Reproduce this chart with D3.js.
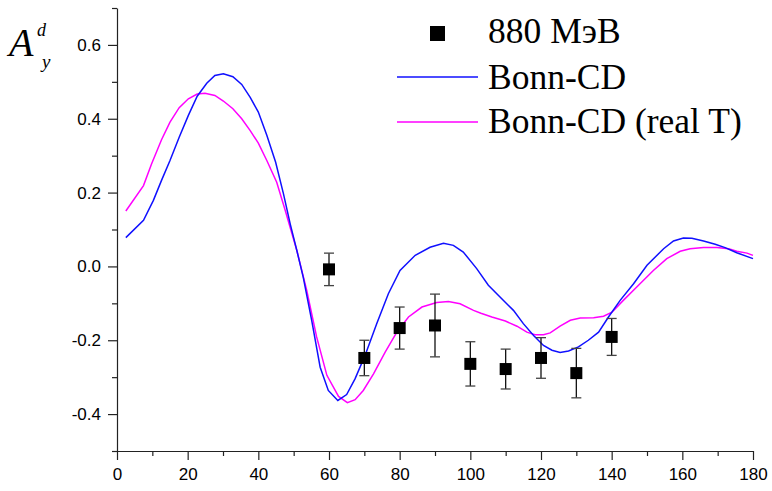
<!DOCTYPE html>
<html>
<head>
<meta charset="utf-8">
<script src="https://cdnjs.cloudflare.com/ajax/libs/d3/7.8.5/d3.min.js"></script>
<style>
  body { margin: 0; background: #fff; }
  .axis text { font-family: "Liberation Sans", Arial, sans-serif; font-size: 17px; fill: #000; }
  .axis path, .axis line { stroke: #222; stroke-width: 1.2; }
</style>
</head>
<body>
<div id="chart"></div>
<script>

  // measured points 880 MeV
  var exp_angle = [60, 70, 80, 90, 100, 110, 120, 130, 140];
  var exp_ay    = [-0.008, -0.248, -0.167, -0.160, -0.264, -0.278, -0.248, -0.289, -0.191];
  var exp_err   = [0.044, 0.048, 0.057, 0.085, 0.060, 0.054, 0.055, 0.067, 0.050];

  // Bonn-CD
  var cd_angle = [2.5, 7.5, 10.3, 12.6, 15, 17.6, 20.2, 22.7, 25.4, 27.7, 30.1, 32.8, 35.3, 37.7, 40, 42.4, 44.9, 47.1, 49, 50.9,
                  52.7, 55.1, 57.5, 59.8, 62.5, 65, 67.4, 70.2, 73.5, 76.8, 80.1, 84.4, 88.6, 92.4, 95.2, 98, 101.8, 105.1, 108.4, 112.2,
                  115, 117.9, 120.7, 123.1, 125.4, 127.8, 130.6, 133.4, 136.3, 139.1, 142.4, 146.2, 150, 154.7, 157.5, 160.3, 162.7, 166, 169.3, 172.1,
                  175.4, 180];
  var cd_ay = [0.078, 0.125, 0.179, 0.233, 0.287, 0.350, 0.409, 0.461, 0.496, 0.517, 0.522, 0.514, 0.493, 0.458, 0.418, 0.355, 0.282, 0.197, 0.116, 0.043,
               -0.029, -0.146, -0.273, -0.336, -0.363, -0.347, -0.304, -0.241, -0.155, -0.074, -0.011, 0.030, 0.052, 0.063, 0.057, 0.039, -0.006, -0.051, -0.083, -0.119,
               -0.155, -0.187, -0.214, -0.227, -0.233, -0.229, -0.218, -0.200, -0.178, -0.137, -0.092, -0.047, 0.003, 0.048, 0.069, 0.077, 0.076, 0.069, 0.060, 0.051,
               0.037, 0.021];

  // Bonn-CD (real T)
  var rt_angle = [2.5, 7.5, 9.8, 12.6, 15, 17.6, 20.2, 22.7, 24.9, 27.7, 30.1, 32.8, 35.3, 37.7, 40, 42.4, 45.2, 47.6, 49.5, 50.9,
                  53.7, 56.5, 59.4, 62.7, 65.2, 67.4, 69.7, 72.6, 75.9, 79.2, 82.5, 86.3, 90.5, 93.8, 97.1, 100.9, 103, 106.1, 109.9, 113.2,
                  116, 118.3, 120.7, 122.6, 125.4, 128.3, 131.1, 134.9, 137.7, 140.1, 143.3, 147.1, 151.8, 155.6, 159.4, 162.2, 166, 169.8, 173.1, 175.4,
                  178.3, 180];
  var rt_ay = [0.150, 0.219, 0.278, 0.343, 0.391, 0.430, 0.454, 0.467, 0.469, 0.463, 0.448, 0.427, 0.400, 0.368, 0.334, 0.287, 0.228, 0.152, 0.089, 0.043,
               -0.065, -0.191, -0.295, -0.352, -0.369, -0.361, -0.336, -0.291, -0.232, -0.178, -0.137, -0.110, -0.098, -0.095, -0.101, -0.119, -0.127, -0.137, -0.148, -0.162,
               -0.178, -0.185, -0.185, -0.180, -0.162, -0.146, -0.140, -0.139, -0.135, -0.124, -0.092, -0.056, -0.011, 0.021, 0.041, 0.048, 0.051, 0.051, 0.048, 0.041,
               0.036, 0.030];

  var x_ticks = d3.range(0, 181, 10);
  var y_ticks = [-0.5, -0.4, -0.3, -0.2, -0.1, 0.0, 0.1, 0.2, 0.3, 0.4, 0.5, 0.6, 0.7];

  var legend_names = ["880 МэВ", "Bonn-CD", "Bonn-CD (real T)"];
  var blue = "#1010ff", magenta = "#ff00ff";
  var serif = '"Liberation Serif", "Times New Roman", serif';

  var svg = d3.select('#chart')
              .append('svg')
              .attr('width', 772)
              .attr('height', 491);

  var x = d3.scaleLinear().domain([0, 180]).range([117, 753]);
  var y = d3.scaleLinear().domain([-0.5, 0.7]).range([451, 8]);

  // axes, labels only on every other tick
  var xAxis = svg.append('g').attr('class', 'axis')
                 .attr('transform', 'translate(0,451)')
                 .call(d3.axisBottom(x).tickValues(x_ticks).tickSize(9).tickSizeOuter(0).tickPadding(8)
                   .tickFormat(function(d){ return d % 20 == 0 ? d : ""; }));
  xAxis.selectAll('.tick line').attr('y2', function(d){ return d % 20 == 0 ? 9 : 5; });

  var yAxis = svg.append('g').attr('class', 'axis')
                 .attr('transform', 'translate(117,0)')
                 .call(d3.axisLeft(y).tickValues(y_ticks).tickSize(9).tickSizeOuter(0).tickPadding(7)
                   .tickFormat(function(d, i){ return i % 2 == 1 ? d.toFixed(1) : ""; }));
  yAxis.selectAll('.tick line').attr('x2', function(d, i){ return i % 2 == 1 ? -9 : -5; });

  // title A_y^d
  var title = svg.append('g').style('font-family', serif)
                 .style('font-style', 'italic');
  title.append('text').attr('x', 9).attr('y', 56).style('font-size', '40px').text('A');
  title.append('text').attr('x', 37).attr('y', 36).style('font-size', '18px').text('d');
  title.append('text').attr('x', 42).attr('y', 68).style('font-size', '19px').text('y');

  // curves
  var line = d3.line()
               .x(function(d){ return x(d[0]); })
               .y(function(d){ return y(d[1]); });

  svg.append('path')
     .datum(d3.zip(rt_angle, rt_ay))
     .attr('d', line)
     .style('fill', 'none')
     .style('stroke', magenta)
     .style('stroke-width', 1.5);

  svg.append('path')
     .datum(d3.zip(cd_angle, cd_ay))
     .attr('d', line)
     .style('fill', 'none')
     .style('stroke', blue)
     .style('stroke-width', 1.5);

  // measured points with error bars
  var pts = svg.selectAll('.pt')
               .data(d3.zip(exp_angle, exp_ay, exp_err))
               .enter().append('g').attr('class', 'pt');

  pts.append('line')
     .attr('x1', function(d){ return x(d[0]); })
     .attr('x2', function(d){ return x(d[0]); })
     .attr('y1', function(d){ return y(d[1] + d[2]); })
     .attr('y2', function(d){ return y(d[1] - d[2]); })
     .style('stroke', '#111').style('stroke-width', 1.3);
  [1, -1].forEach(function(s){
    pts.append('line')
       .attr('x1', function(d){ return x(d[0]) - 5; })
       .attr('x2', function(d){ return x(d[0]) + 5; })
       .attr('y1', function(d){ return y(d[1] + s*d[2]); })
       .attr('y2', function(d){ return y(d[1] + s*d[2]); })
       .style('stroke', '#444').style('stroke-width', 1.3);
  });
  pts.append('rect')
     .attr('x', function(d){ return x(d[0]) - 6; })
     .attr('y', function(d){ return y(d[1]) - 6; })
     .attr('width', 12)
     .attr('height', 12)
     .style('fill', '#000');

  // legend
  var leg = svg.append('g');
  leg.append('rect').attr('x', 430).attr('y', 26).attr('width', 15).attr('height', 15).style('fill', '#000');
  leg.append('line').attr('x1', 397).attr('x2', 478).attr('y1', 77).attr('y2', 77)
     .style('stroke', blue).style('stroke-width', 1.5);
  leg.append('line').attr('x1', 397).attr('x2', 478).attr('y1', 122).attr('y2', 122)
     .style('stroke', magenta).style('stroke-width', 1.5);
  leg.selectAll('text')
     .data(legend_names)
     .enter().append('text')
     .attr('x', 488)
     .attr('y', function(d, i){ return [43, 89, 133][i]; })
     .style('font-family', serif)
     .style('font-size', '35.5px')
     .text(function(d){ return d; });

</script>
</body>
</html>
